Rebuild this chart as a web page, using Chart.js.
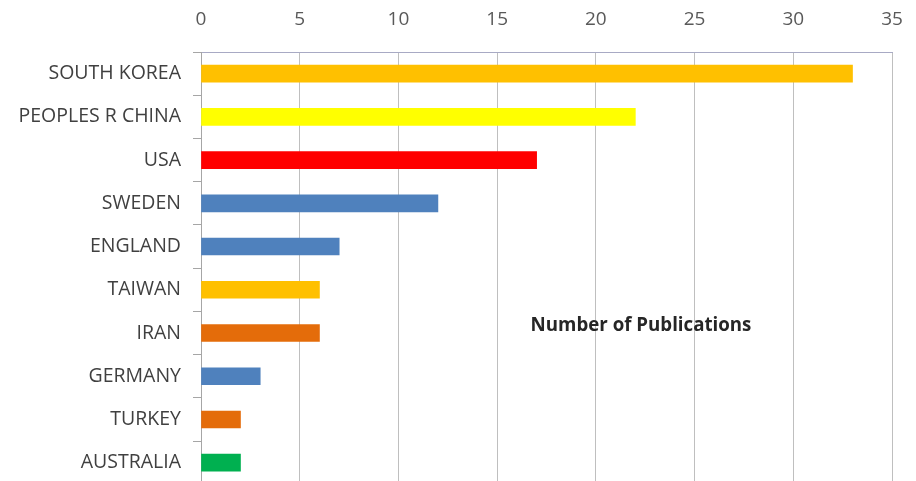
<!DOCTYPE html>
<html>
<head>
<meta charset="utf-8">
<script src="https://cdn.jsdelivr.net/npm/chart.js@4/dist/chart.umd.min.js"></script>
<style>
  html, body { margin: 0; padding: 0; background: #fff; overflow: hidden; }
  #wrap { width: 916px; height: 508px; }
</style>
</head>
<body>
<div id="wrap"><canvas id="pubChart" width="916" height="508"></canvas></div>
<script>
// Publications per country
const countries = ['SOUTH KOREA', 'PEOPLES R CHINA', 'USA', 'SWEDEN', 'ENGLAND',
                   'TAIWAN', 'IRAN', 'GERMANY', 'TURKEY', 'AUSTRALIA'];
const publications = [33, 22, 17, 12, 7, 6, 6, 3, 2, 2];
const barColors = ['#FFC000', '#FFFF00', '#FF0000', '#4F81BD', '#4F81BD',
                   '#FFC000', '#E46C0A', '#4F81BD', '#E46C0A', '#00B050'];
const xTicks = [0, 5, 10, 15, 20, 25, 30, 35];

const labelFont = "'Open Sans', sans-serif";

// axis title sits inside the plot, like the original
const titleInside = {
    id: 'titleInside',
    afterDraw(chart) {
        const ctx = chart.ctx;
        ctx.save();
        ctx.font = "bold 18.7px " + labelFont;
        ctx.fillStyle = '#262626';
        ctx.textAlign = 'center';
        ctx.textBaseline = 'middle';
        ctx.fillText('Number of Publications', 641, 326);
        ctx.restore();
    }
};

const ctx = document.getElementById('pubChart').getContext('2d');

new Chart(ctx, {
    type: 'bar',
    data: {
        labels: countries,
        datasets: [{
            label: 'Number of Publications',
            data: publications,
            backgroundColor: barColors,
            barThickness: 17
        }]
    },
    options: {
        indexAxis: 'y',
        responsive: false,
        animation: false,
        layout: { padding: { left: 0, right: 24, top: 0, bottom: 0 } },
        plugins: {
            legend: { display: false },
            tooltip: { enabled: false }
        },
        scales: {
            x: {
                position: 'top',
                min: 0,
                max: 35,
                afterBuildTicks: axis => { axis.ticks = xTicks.map(v => ({ value: v })); },
                afterFit: axis => {
                    axis.height = 52;
                    axis.paddingLeft = 0;
                    axis.paddingRight = 0;
                },
                ticks: {
                    color: '#595959',
                    font: { family: labelFont, size: 19 },
                    padding: 21
                },
                grid: {
                    color: '#BFBFBF',
                    lineWidth: 1,
                    drawTicks: false
                },
                border: { color: '#A8AAC4', width: 1 }
            },
            y: {
                afterFit: axis => { axis.width = 201; },
                ticks: {
                    color: '#404040',
                    font: { family: labelFont, size: 19.5 },
                    padding: 12
                },
                grid: {
                    drawOnChartArea: false,
                    tickLength: 8,
                    color: '#A6A6A6'
                },
                border: { color: '#A6A6A6', width: 1 }
            }
        }
    },
    plugins: [titleInside]
});
</script>
</body>
</html>
